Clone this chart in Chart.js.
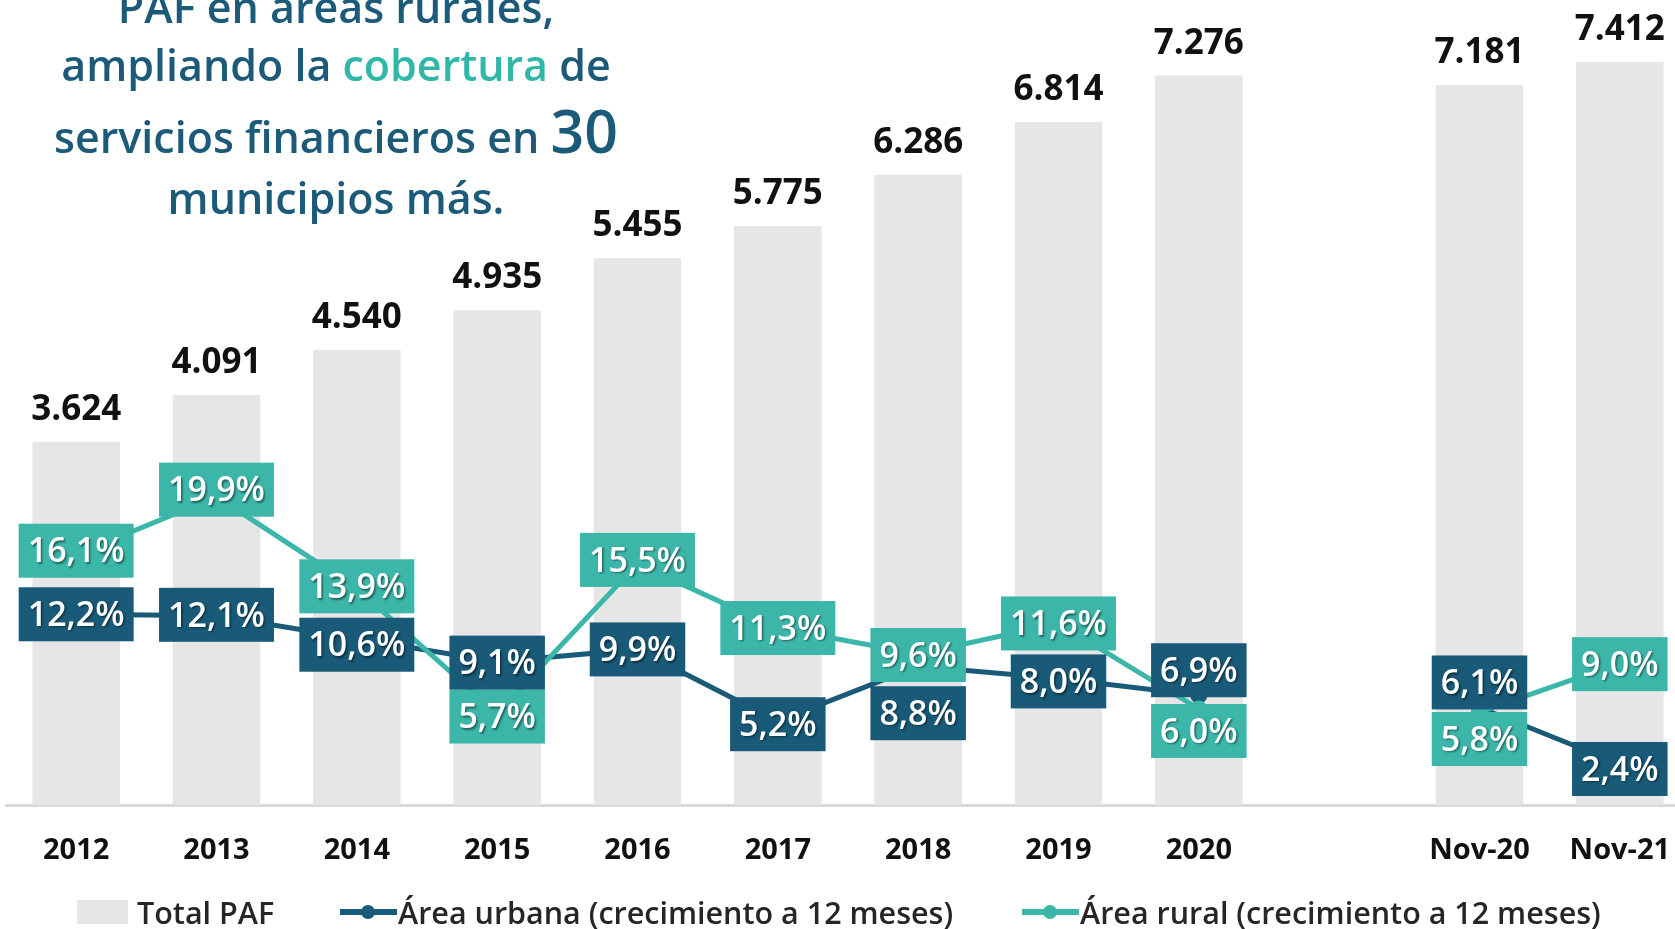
<!DOCTYPE html>
<html lang="es">
<head>
<meta charset="utf-8">
<title>PAF en áreas rurales</title>
<script src="https://cdn.jsdelivr.net/npm/chart.js@4.4.1/dist/chart.umd.min.js"></script>
<style>
    html, body { margin: 0; padding: 0; background: #fff; overflow: hidden; width: 1675px; height: 929px; }
    body { position: relative; font-family: 'Open Sans', sans-serif; }
    #wrap { position: absolute; left: -5.5px; top: 0; width: 1706px; height: 929px; }
    .title { position: absolute; left: 0; width: 672px; text-align: center; font-size: 43px; font-weight: 600;
             line-height: 44px; color: #1b5a79; white-space: nowrap; z-index: 2; }
    .title .hl { color: #2fb8a7; }
    .title .big { font-size: 59px; line-height: 0; }
    .legend-item { position: absolute; top: 897px; height: 30px; display: flex; align-items: center;
                   font-size: 30.5px; font-weight: 600; color: #262626; line-height: 30px; white-space: nowrap; }
    .swatch { width: 51px; height: 24px; background: #e6e6e6; margin-right: 9px; }
    .marker { position: relative; width: 57px; height: 30px; margin-right: 1px; }
    .marker::before { content: ''; position: absolute; left: 0; right: 0; top: 12px; height: 6px; background: var(--c); }
    .marker::after { content: ''; position: absolute; left: 21px; top: 8px; width: 14px; height: 14px; border-radius: 50%; background: var(--c); }
</style>
</head>
<body>
<div id="wrap"><canvas id="paf-chart"></canvas></div>

<div class="title" style="top:-15px">PAF en áreas rurales,</div>
<div class="title" style="top:43px">ampliando la <span class="hl">cobertura</span> de</div>
<div class="title" style="top:115px">servicios financieros en <span class="big">30</span></div>
<div class="title" style="top:176px">municipios más.</div>

<div class="legend-item" style="left:77px"><span class="swatch"></span>Total PAF</div>
<div class="legend-item" style="left:340px"><span class="marker" style="--c:#185a78"></span>Área urbana (crecimiento a 12 meses)</div>
<div class="legend-item" style="left:1022px"><span class="marker" style="--c:#3bb6a9"></span>Área rural (crecimiento a 12 meses)</div>

<script>
// PAF coverage chart

const categories = ['2012', '2013', '2014', '2015', '2016', '2017', '2018', '2019', '2020', '', 'Nov-20', 'Nov-21'];
const totalPAF = [3624, 4091, 4540, 4935, 5455, 5775, 6286, 6814, 7276, null, 7181, 7412];
const urbanGrowth = [12.2, 12.1, 10.6, 9.1, 9.9, 5.2, 8.8, 8.0, 6.9, null, 6.1, 2.4];
const ruralGrowth = [16.1, 19.9, 13.9, 5.7, 15.5, 11.3, 9.6, 11.6, 6.0, null, 5.8, 9.0];

// vertical shift (px) of each percent box relative to its point
const urbanLabelShift = [0, -1, 6, 1, 0, 3, 47, 3, -25, 0, -25, 5];
const ruralLabelShift = [-4, -7, -2, 3, -4, 0, 1, 0, 22, 0, 27, 1];

const DARK = '#185a78';
const TEAL = '#3bb6a9';
const FONT = "'Open Sans', sans-serif";

// 3624 -> "3.624"
function formatThousands(n) {
    return String(n).replace(/\B(?=(\d{3})+(?!\d))/g, '.');
}

// 12.2 -> "12,2%"
function formatPct(v) {
    return v.toFixed(1).replace('.', ',') + '%';
}

// Draw boxed percent labels for one line dataset
function drawBoxes(ctx, meta, values, shifts, color) {
    meta.data.forEach((pt, i) => {
        if (values[i] == null) return;
        const text = formatPct(values[i]);
        const w = ctx.measureText(text).width + 18;
        const h = 54;
        const cx = pt.x;
        const cy = pt.y + shifts[i];
        ctx.shadowColor = 'transparent';
        ctx.fillStyle = color;
        ctx.fillRect(cx - w / 2, cy - h / 2, w, h);
        ctx.shadowColor = 'rgba(0,0,0,0.45)';
        ctx.shadowOffsetX = 1.5;
        ctx.shadowOffsetY = 1.5;
        ctx.shadowBlur = 2;
        ctx.fillStyle = '#fff';
        ctx.fillText(text, cx, cy + 2);
    });
}

const labelPlugin = {
    id: 'pafLabels',
    afterDatasetsDraw(chart) {
        const ctx = chart.ctx;
        ctx.save();

        // Totals above bars
        const barMeta = chart.getDatasetMeta(2);
        ctx.font = 'bold 35px ' + FONT;
        ctx.fillStyle = '#111';
        ctx.textAlign = 'center';
        ctx.textBaseline = 'alphabetic';
        barMeta.data.forEach((bar, i) => {
            if (totalPAF[i] == null) return;
            ctx.fillText(formatThousands(totalPAF[i]), bar.x, bar.y - 22);
        });

        // Percent boxes (rural first, urban on top)
        ctx.font = '600 34px ' + FONT;
        ctx.textBaseline = 'middle';
        drawBoxes(ctx, chart.getDatasetMeta(0), ruralGrowth, ruralLabelShift, TEAL);
        drawBoxes(ctx, chart.getDatasetMeta(1), urbanGrowth, urbanLabelShift, DARK);

        ctx.restore();
    }
};

function init() {
    Chart.defaults.font.family = FONT;

    new Chart(document.getElementById('paf-chart'), {
        data: {
            labels: categories,
            datasets: [
                {
                    type: 'line',
                    label: 'Área rural (crecimiento a 12 meses)',
                    data: ruralGrowth,
                    yAxisID: 'yPct',
                    borderColor: TEAL,
                    backgroundColor: TEAL,
                    borderWidth: 5,
                    pointRadius: 6,
                    pointHoverRadius: 6,
                    tension: 0,
                    spanGaps: false,
                    order: 1
                },
                {
                    type: 'line',
                    label: 'Área urbana (crecimiento a 12 meses)',
                    data: urbanGrowth,
                    yAxisID: 'yPct',
                    borderColor: DARK,
                    backgroundColor: DARK,
                    borderWidth: 5,
                    pointRadius: 6,
                    pointHoverRadius: 6,
                    tension: 0,
                    spanGaps: false,
                    order: 2
                },
                {
                    type: 'bar',
                    label: 'Total PAF',
                    data: totalPAF,
                    yAxisID: 'y',
                    backgroundColor: '#e6e6e6',
                    categoryPercentage: 1,
                    barPercentage: 0.624,
                    order: 3
                }
            ]
        },
        options: {
            responsive: true,
            maintainAspectRatio: false,
            animation: false,
            layout: {
                padding: { left: 0, right: 0, top: -3, bottom: 33 }
            },
            plugins: {
                legend: { display: false },
                tooltip: { enabled: false }
            },
            scales: {
                x: {
                    grid: { display: false, drawTicks: false },
                    border: { display: true, color: '#d9d9d9', width: 3 },
                    ticks: {
                        color: '#111',
                        font: { size: 29, weight: 'bold' },
                        padding: 28,
                        maxRotation: 0,
                        autoSkip: false
                    }
                },
                y: { display: false, min: 0, max: 7920 },
                yPct: { display: false, position: 'right', min: -0.3, max: 51.7 }
            }
        },
        plugins: [labelPlugin]
    });
}

document.addEventListener('DOMContentLoaded', init);
</script>
</body>
</html>
